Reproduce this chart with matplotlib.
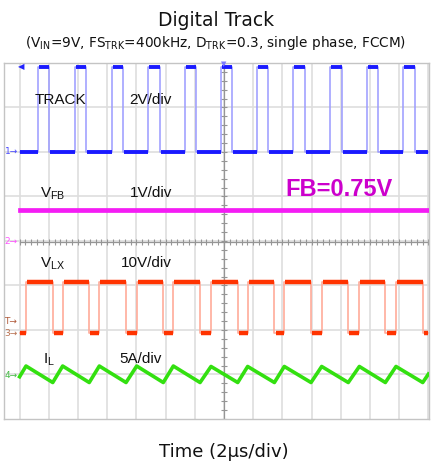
import numpy as np
import matplotlib
matplotlib.use('Agg')
import matplotlib.pyplot as plt

W, H, DPI = 435, 466, 100

# ---------------- data ----------------
t_end = 28.0                      # us shown on screen (14 div x 2us)
track_rise = [1.28, 3.79, 6.31, 8.82, 11.33, 13.79, 16.27, 18.75, 21.26, 23.77, 26.29]
track_fall = [2.03, 4.55, 7.06, 9.62, 12.08, 14.53, 17.03, 19.55, 22.06, 24.57, 27.08]
track_high, track_low = 3.8, 0.0  # V
vfb_level = 0.7                   # V
vlx_rise = [0.44, 2.95, 5.46, 8.02, 10.53, 13.11, 15.62, 18.13, 20.69, 23.27, 25.78]
vlx_fall = [2.27, 4.77, 7.29, 9.84, 12.36, 14.94, 17.45, 19.96, 22.51, 25.05, 27.61]
vlx_high, vlx_low = 11.5, 0.0     # V
il_t = [0.0, 0.44, 2.27, 2.95, 4.77, 5.46, 7.29, 8.02, 9.84, 10.53, 12.36, 13.11,
        14.94, 15.62, 17.45, 18.13, 19.96, 20.69, 22.51, 23.27, 25.05, 25.78, 27.61, 28.0]
il_a = [-0.2, 1.0, -0.85, 1.0, -0.85, 1.0, -0.85, 1.0, -0.85, 1.0, -0.85, 0.95,
        -0.85, 0.95, -0.85, 0.95, -0.85, 0.95, -0.85, 0.95, -0.85, 0.95, -0.85, 0.1]

# channel settings: (offset in div, units per div)
ch1 = (2.0, 2.0)
ch2 = (-0.015, 1.0)
ch3 = (-2.07, 10.0)
ch4 = (-3.01, 5.0)

def to_div(vals, ch):
    return ch[0] + np.asarray(vals, dtype=float) / ch[1]

def square(rise, fall, hi, lo):
    t, v = [0.0], [lo]
    for r, f in zip(rise, fall):
        t += [r, r, f, f]
        v += [lo, hi, hi, lo]
    t.append(t_end); v.append(lo)
    return np.array(t), np.array(v)

def flat_segments(ax, rise, fall, hi, lo, ch, color, lw):
    rise = np.asarray(rise); fall = np.asarray(fall)
    hd = to_div([hi], ch)[0]; ld = to_div([lo], ch)[0]
    ax.hlines(np.full(len(rise), hd), rise + 0.06, fall, color=color, lw=lw, zorder=4)
    starts = np.concatenate([[0.0], fall + 0.08])
    ends = np.concatenate([rise, [t_end]])
    ax.hlines(np.full(len(starts), ld), starts, ends, color=color, lw=lw, zorder=4)

fig = plt.figure(figsize=(W / DPI, H / DPI), dpi=DPI)
fig.patch.set_facecolor('white')

def px(x, y):
    return x / W, 1 - y / H

# scope screen axes
ax = fig.add_axes([4.5 / W, 1 - 419 / H, 424.5 / W, (419 - 62.5) / H])
ax.set_xlim(-1.034, 28.04)
ax.set_ylim(-4.0, 4.01)
ax.set_xticks([]); ax.set_yticks([])
for s in ax.spines.values():
    s.set_color('#c4c4c4'); s.set_linewidth(1.0)

# graticule
for tx in np.arange(0, 28.1, 2):
    ax.axvline(tx, color='#dedede', lw=1.2, zorder=0)
for dy in range(-3, 4):
    ax.axhline(dy, color='#dedede', lw=1.2, zorder=0)
# centre axes with minor ticks
cc = '#959595'
ax.plot([14, 14], [-4, 4.01], color=cc, lw=0.9, zorder=1)
ax.plot([0, 28], [-0.015, -0.015], color=cc, lw=0.9, zorder=1)
ax.plot(np.full(41, 14.0), np.arange(-4, 4.01, 0.2), ls='none', marker='_',
        ms=4, mew=0.8, color=cc, zorder=1)
ax.plot(np.arange(0, 28.01, 0.4), np.full(71, -0.015), ls='none', marker='|',
        ms=4, mew=0.8, color=cc, zorder=1)

# --- CH1 TRACK (blue)
t, v = square(track_rise, track_fall, track_high, track_low)
ax.plot(t, to_div(v, ch1), color='#9a9aff', lw=1.1, zorder=3)
flat_segments(ax, track_rise, track_fall, track_high, track_low, ch1, '#1a1aff', 2.8)

# --- CH2 VFB (magenta)
ax.plot([0, t_end], to_div([vfb_level, vfb_level], ch2), color='#f41cf4', lw=3.4, zorder=4)

# --- CH3 VLX (red)
t, v = square(vlx_rise, vlx_fall, vlx_high, vlx_low)
ax.plot(t, to_div(v, ch3), color='#ffab9a', lw=1.2, zorder=3)
flat_segments(ax, vlx_rise, vlx_fall, vlx_high, vlx_low, ch3, '#ff3300', 3.2)

# --- CH4 IL (green)
ax.plot(il_t, to_div(il_a, ch4), color='#33e010', lw=2.6, zorder=4)

# ---------------- text ----------------
plt.rcParams['mathtext.fontset'] = 'custom'
plt.rcParams['mathtext.rm'] = 'Liberation Sans'

fig.text(*px(216.5, 26), 'Digital Track', ha='center', va='baseline',
         fontsize=13.5, family='DejaVu Sans', color='#111111')
fig.text(*px(215.5, 46.5),
         r'(V$_{\mathregular{IN}}$=9V, FS$_{\mathregular{TRK}}$=400kHz, '
         r'D$_{\mathregular{TRK}}$=0.3, single phase, FCCM)',
         ha='center', va='baseline', fontsize=9.8, family='DejaVu Sans', color='#111111')
fig.text(*px(224, 457.3), 'Time (2\u03bcs/div)', ha='center', va='baseline',
         fontsize=13, family='DejaVu Sans', color='#111111')

lab = dict(ha='left', va='baseline', fontsize=11, family='Liberation Sans', color='#111111')
fig.text(*px(35, 104), 'TRACK', **lab)
fig.text(*px(129.5, 104), '2V/div', **lab)
fig.text(*px(40, 197.3), r'V$_{\mathregular{FB}}$', **lab)
fig.text(*px(130, 197.3), '1V/div', **lab)
fig.text(*px(40, 267.3), r'V$_{\mathregular{LX}}$', **lab)
fig.text(*px(120.7, 267.3), '10V/div', **lab)
fig.text(*px(43, 363.3), r'I$_{\mathregular{L}}$', **lab)
fig.text(*px(119.3, 363.3), '5A/div', **lab)

fig.text(*px(285, 196), 'FB=0.75V', ha='left', va='baseline', fontsize=17,
         family='Liberation Sans', fontweight='bold', color='#cc00cc')

# channel markers
mk = dict(ha='left', va='center', fontsize=6.5, family='DejaVu Sans')
fig.text(*px(4.5, 152), '1\u2192', color='#4a4aff', **mk)
fig.text(*px(4.5, 241.5), '2\u2192', color='#ff55ff', **mk)
fig.text(*px(4.5, 321), 'T\u2192', color='#b05a3a', **mk)
fig.text(*px(4.5, 333.5), '3\u2192', color='#b87050', **mk)
fig.text(*px(4.5, 375), '4\u2192', color='#44bb44', **mk)
fig.text(*px(17.5, 67), '\u25c0', color='#2222ff', ha='left', va='center', fontsize=6,
         family='DejaVu Sans')
fig.text(*px(224, 64), '\u25bc', color='#7a7aff', ha='center', va='center', fontsize=5,
         family='DejaVu Sans')

fig.savefig('out.png', dpi=DPI, facecolor='white')
